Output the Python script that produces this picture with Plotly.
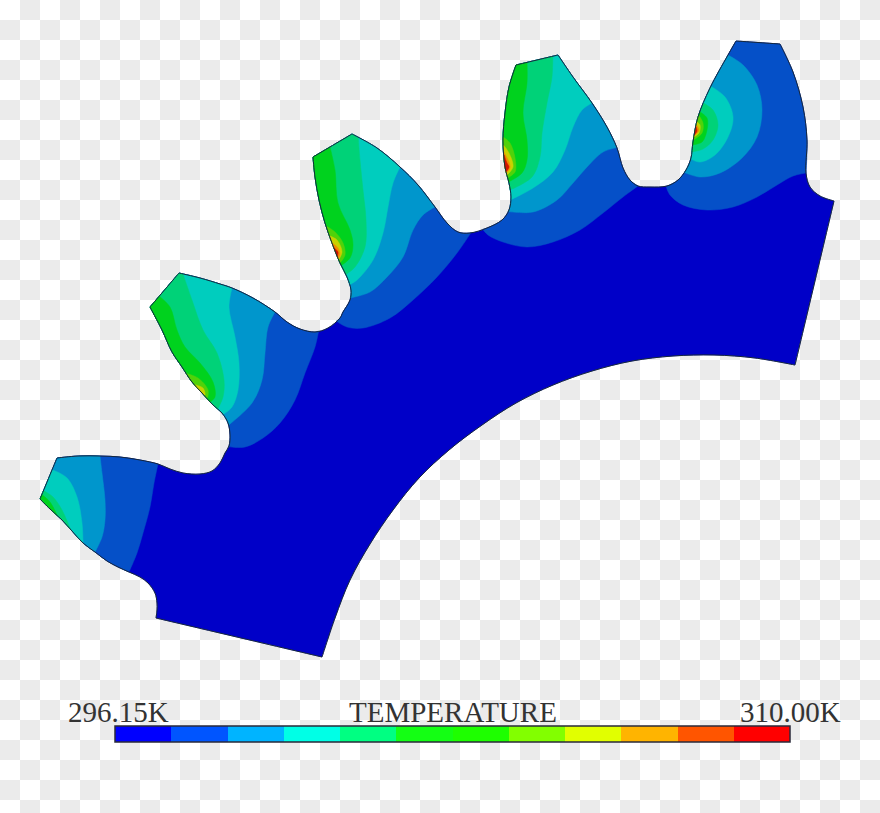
import plotly.graph_objects as go

# gear outline, clockwise from the lower left flat
outline = [
    (156, 618), (157, 610), (157, 603), (155, 593), (148, 583), (140, 577), (129, 572), (118, 567), (107, 561),
    (95, 552), (83, 543), (72, 531), (62, 520), (50, 509), (40, 499),
    (57, 458), (78, 456), (100, 456), (120, 457), (140, 460), (158, 464), (170, 469), (183, 473), (200, 474),
    (212, 471), (220, 463), (225, 453), (229, 446), (230, 435), (228, 423), (222, 413), (213, 405), (202, 393),
    (192, 382), (182, 367), (172, 352), (162, 330), (150, 307),
    (179, 273), (200, 278), (220, 284), (232, 288), (253, 298), (275, 312), (287, 322), (300, 329), (315, 332),
    (328, 328), (340, 318), (343, 312), (350, 300), (351, 290), (347, 277), (340, 263), (332, 243), (325, 223),
    (319, 200), (315, 177), (313, 157),
    (352, 134), (377, 148), (400, 167), (418, 185), (435, 207), (447, 223), (458, 232), (470, 233), (487, 228),
    (502, 220), (509, 210), (511, 197), (509, 183), (505, 167), (503, 140), (505, 113), (509, 87), (516, 65),
    (558, 55), (573, 77), (592, 103), (607, 127), (617, 148), (623, 168), (630, 180), (638, 186), (650, 187),
    (667, 186), (678, 180), (686, 170), (691, 158), (693, 142), (698, 117), (710, 88), (728, 55), (736, 41),
    (780, 44), (793, 72), (803, 107), (807, 140), (806, 173), (810, 187), (820, 196), (834, 201),
    (795, 365), (755, 358), (714, 355), (673, 356), (632, 361), (592, 371), (553, 385), (516, 403), (482, 425),
    (449, 450), (419, 478), (393, 510), (370, 544), (350, 580), (335, 618), (322, 657),
]

# sharp corners of the outline, everything else is a smooth curve
corners = [(156, 618), (40, 499), (57, 458), (150, 307), (179, 273), (313, 157), (352, 134), (516, 65), (558, 55),
           (736, 41), (780, 44), (834, 201), (795, 365), (322, 657)]

# contour lines per tooth, each one runs from edge to edge, coolest level first
tooth_1 = [
    [(158, 464), (154, 483), (150, 507), (143, 533), (137, 553), (129, 572)],
    [(100, 456), (102, 473), (105, 500), (105, 520), (102, 537), (95, 552)],
    [(55, 471), (67, 478), (77, 497), (82, 523), (83, 543)],
    [(47, 492), (53, 497), (62, 510), (70, 530)],
    [(43, 495), (50, 502), (58, 515)],
]
tooth_2 = [
    [(319, 332), (315, 347), (305, 373), (295, 400), (280, 423), (263, 438), (245, 447), (229, 447)],
    [(275, 312), (268, 327), (265, 353), (262, 380), (252, 403), (230, 425)],
    [(232, 288), (229, 307), (235, 337), (239, 363), (238, 390), (232, 407), (224, 414)],
    [(183, 274), (192, 300), (203, 330), (217, 353), (224, 380), (223, 397), (217, 410)],
    [(159, 296), (170, 307), (177, 330), (185, 347), (200, 363), (213, 382), (215, 397), (208, 404)],
    [(187, 373), (198, 378), (208, 390), (207, 398), (202, 396)],
    [(194, 385), (203, 388), (205, 395), (202, 396)],
]
tooth_3 = [
    [(471, 233), (457, 253), (437, 277), (413, 300), (390, 318), (363, 328), (347, 327), (337, 322)],
    [(435, 207), (423, 215), (413, 230), (403, 257), (387, 277), (370, 292), (351, 298)],
    [(400, 167), (393, 183), (388, 207), (383, 233), (373, 260), (357, 280), (349, 285)],
    [(358, 138), (360, 160), (363, 190), (366, 220), (365, 247), (355, 267), (345, 275)],
    [(330, 147), (335, 170), (338, 203), (350, 230), (353, 245), (350, 258), (342, 265)],
    [(326, 226), (335, 232), (343, 243), (345, 255), (340, 263)],
    [(329, 236), (337, 240), (342, 252), (338, 260)],
    [(332, 243), (338, 248), (340, 255), (337, 259)],
    [(333, 248), (338, 252), (336, 257)],
]
tooth_4 = [
    [(638, 186), (623, 197), (603, 213), (580, 230), (553, 242), (527, 247), (503, 242), (488, 235), (483, 230)],
    [(616, 148), (603, 152), (587, 167), (573, 183), (557, 200), (533, 212), (510, 213)],
    [(592, 103), (582, 110), (573, 127), (565, 150), (553, 172), (533, 188), (511, 200)],
    [(553, 57), (552, 77), (547, 103), (542, 133), (540, 157), (532, 177), (510, 190)],
    [(527, 62), (527, 83), (523, 113), (527, 140), (527, 160), (522, 173), (508, 182)],
    [(503, 137), (510, 143), (515, 158), (515, 172), (507, 178)],
    [(503, 145), (509, 153), (513, 167), (507, 175)],
    [(503, 152), (509, 162), (510, 168), (506, 173)],
    [(504, 155), (507, 163), (509, 167), (505, 172)],
]
tooth_5 = [
    [(806, 173), (793, 176), (777, 185), (757, 197), (733, 207), (707, 210), (683, 205), (670, 195), (666, 186)],
    [(728, 55), (743, 65), (757, 85), (762, 110), (757, 137), (742, 158), (720, 173), (700, 177), (685, 173)],
    [(712, 87), (725, 97), (733, 117), (728, 137), (715, 155), (700, 162), (691, 159)],
    [(703, 103), (713, 110), (718, 125), (713, 140), (703, 149), (693, 152)],
    [(700, 112), (707, 118), (707, 130), (702, 142), (694, 145)],
    [(698, 115), (703, 123), (702, 133), (694, 140)],
    [(697, 122), (700, 125), (699, 133), (694, 137)],
    [(696, 125), (699, 130), (695, 136)],
    [(696, 127), (697, 131), (695, 135)],
]
teeth = [tooth_1, tooth_2, tooth_3, tooth_4, tooth_5]

# brighter slivers along the tooth tips: level index, contour
slivers = [
    (5, [(152, 305), (157, 313), (157, 322)]),
    (5, [(317, 155), (318, 173), (317, 183)]),
    (5, [(517, 65), (513, 87), (507, 107)]),
]

gear_colors = ["#0000c8", "#0550c8", "#0096cc", "#00cdbe", "#00d278", "#00d21e",
               "#50d20a", "#c8d200", "#f08c00", "#d21400"]

# legend bar
temp_edges = [296.15, 297.30, 298.46, 299.61, 300.77, 301.92, 303.08, 304.23, 305.38, 306.54, 307.69, 308.85, 310.00]
temp_levels = [0, 1, 2, 3, 4, 5, 6, 7, 8, 9, 10, 11]
bar_colors = ["#0000ff", "#0055ff", "#00b4ff", "#00ffe6", "#00ff82", "#14ff14",
              "#1eff00", "#82ff00", "#e1ff00", "#ffb400", "#ff5500", "#ff0000"]


def snap(pt):
    # closest point of the outline to pt, with the segment it sits on
    best = None
    n = len(outline)
    for i in range(n):
        ax, ay = outline[i]
        bx, by = outline[(i + 1) % n]
        dx, dy = bx - ax, by - ay
        t = ((pt[0] - ax) * dx + (pt[1] - ay) * dy) / (dx * dx + dy * dy)
        t = max(0, min(1, t))
        qx, qy = ax + t * dx, ay + t * dy
        d = (qx - pt[0]) ** 2 + (qy - pt[1]) ** 2
        if best is None or d < best[0]:
            best = (d, i, (qx, qy))
    return best[1], best[2]


def sharpen(path):
    # a doubled vertex keeps the spline from rounding that corner
    out = []
    for p in path:
        out.append(p)
        if p in corners:
            out.append(p)
    return out


def band(contour):
    # contour line closed along the gear edge, so the fill never leaves the gear
    i_a, p_a = snap(contour[0])
    i_b, p_b = snap(contour[-1])
    if i_a > i_b:
        edge = outline[i_b + 1:i_a + 1]
    else:
        edge = outline[i_a + 1:i_b + 1][::-1]
    path = [p_a, p_a] + contour[1:-1] + [p_b, p_b] + sharpen(edge) + [p_a, p_a]
    return [p[0] for p in path], [p[1] for p in path]


def filled(xs, ys, color):
    return go.Scatter(x=xs, y=ys, mode="lines", fill="toself", fillcolor=color,
                      line=dict(color=color, width=0.5, shape="spline", smoothing=1, simplify=False),
                      hoverinfo="skip", showlegend=False)


fig = go.Figure()

# checkered backdrop of the picture
checker = [[(c + r) % 2 for c in range(44)] for r in range(41)]
fig.add_trace(go.Heatmap(z=checker, x0=10, dx=20, y0=10, dy=20, showscale=False, hoverinfo="skip",
                         colorscale=[[0, "#ffffff"], [1, "#ebebeb"]]))

gear_path = sharpen(outline + outline[:1])
gx = [p[0] for p in gear_path]
gy = [p[1] for p in gear_path]
fig.add_trace(filled(gx, gy, gear_colors[0]))

for tooth in teeth:
    for level, contour in enumerate(tooth):
        xs, ys = band(contour)
        fig.add_trace(filled(xs, ys, gear_colors[level + 1]))
for level, contour in slivers:
    xs, ys = band(contour)
    fig.add_trace(filled(xs, ys, gear_colors[level]))

fig.add_trace(go.Scatter(x=gx, y=gy, mode="lines",
                         line=dict(color="#16283a", width=1, shape="spline", smoothing=1, simplify=False),
                         hoverinfo="skip", showlegend=False))

# temperature bar on its own axes
scale = []
for i, c in enumerate(bar_colors):
    scale.append([i / 12, c])
    scale.append([(i + 1) / 12, c])
fig.add_trace(go.Heatmap(z=[temp_levels], x=temp_edges, y=[0, 1], zmin=0, zmax=12, colorscale=scale,
                         showscale=False, hoverinfo="skip", xaxis="x2", yaxis="y2"))

fig.update_layout(
    width=880, height=813, margin=dict(l=0, r=0, t=0, b=0),
    paper_bgcolor="white", plot_bgcolor="white", showlegend=False,
    font=dict(family="Liberation Serif", color="#333333", size=29),
    xaxis=dict(range=[0, 880], visible=False, domain=[0, 1]),
    yaxis=dict(range=[813, 0], visible=False, domain=[0, 1]),
    xaxis2=dict(range=[296.15, 310], visible=False, domain=[115 / 880, 790 / 880], anchor="y2"),
    yaxis2=dict(range=[0, 1], visible=False, domain=[1 - 742 / 813, 1 - 726 / 813], anchor="x2"),
    shapes=[dict(type="rect", xref="x2 domain", yref="y2 domain", x0=0, x1=1, y0=0, y1=1,
                 line=dict(color="#2a2a3a", width=1.5))],
    annotations=[
        dict(text="296.15K", x=118, y=711.5, xref="x", yref="y", showarrow=False),
        dict(text="TEMPERATURE", x=453, y=711.5, xref="x", yref="y", showarrow=False),
        dict(text="310.00K", x=790, y=711.5, xref="x", yref="y", showarrow=False),
    ],
)

fig.write_html("out.html", config={"displayModeBar": False}, post_script="document.body.style.margin='0';")
